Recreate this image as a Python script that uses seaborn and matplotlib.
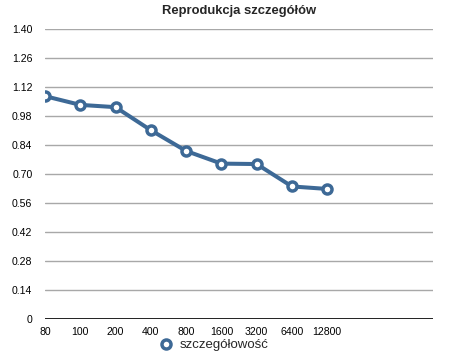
import matplotlib
matplotlib.use("Agg")
import pandas as pd
import seaborn as sns
from matplotlib import pyplot as plt
from matplotlib.lines import Line2D

# values
resolutions = ['80', '100', '200', '400', '800', '1600', '3200', '6400', '12800']
detail = [1.075, 1.033, 1.022, 0.911, 0.811, 0.750, 0.748, 0.640, 0.628]
y_ticks = [0, 0.14, 0.28, 0.42, 0.56, 0.70, 0.84, 0.98, 1.12, 1.26, 1.40]
y_tick_labels = ['0', '0.14', '0.28', '0.42', '0.56', '0.70', '0.84', '0.98', '1.12', '1.26', '1.40']
series_name = 'szczegółowość'
title = 'Reprodukcja szczegółów'

sns.set_style('white')
plt.rcParams['font.family'] = ['Liberation Sans', 'DejaVu Sans']

line_color = '#3d6996'
df = pd.DataFrame({'res': resolutions, 'val': detail})

fig = plt.figure(figsize=(4.62, 3.56), dpi=100)
ax = fig.add_axes([45 / 462, 1 - 319.3 / 356, 388 / 462, 290.6 / 356])

sns.lineplot(df, x='res', y='val', ax=ax, color=line_color, linewidth=2.9,
             marker='o', markersize=6.5, markeredgewidth=2.5, markerfacecolor='white',
             markeredgecolor=line_color, legend=False, zorder=5)

ax.set_xlim(0, 11)
ax.set_ylim(0, 1.40)
ax.set_yticks(y_ticks)
ax.set_yticklabels(y_tick_labels)
ax.yaxis.grid(True, color='#a8a8a8', linewidth=1)
ax.axhline(0, color='black', linewidth=1.2, zorder=4)
for side in ['top', 'right', 'left', 'bottom']:
    ax.spines[side].set_visible(False)
ax.tick_params(axis='both', length=0, labelsize=7.6, colors='black')
ax.tick_params(axis='y', pad=9)
ax.tick_params(axis='x', pad=5.5)
ax.set_xlabel('')
ax.set_ylabel('')
ax.set_title(title, fontsize=9.4, fontweight='bold', pad=10.5)

handle = Line2D([], [], color=line_color, linestyle='none', marker='o', markersize=6.5,
                markeredgewidth=2.5, markerfacecolor='white', markeredgecolor=line_color)
fig.legend([handle], [series_name], loc='center', bbox_to_anchor=(214 / 462, 1 - 345 / 356),
           frameon=False, fontsize=9.5, handlelength=1.0, handletextpad=0.6, borderpad=0)

fig.savefig('out.png', dpi=100)
